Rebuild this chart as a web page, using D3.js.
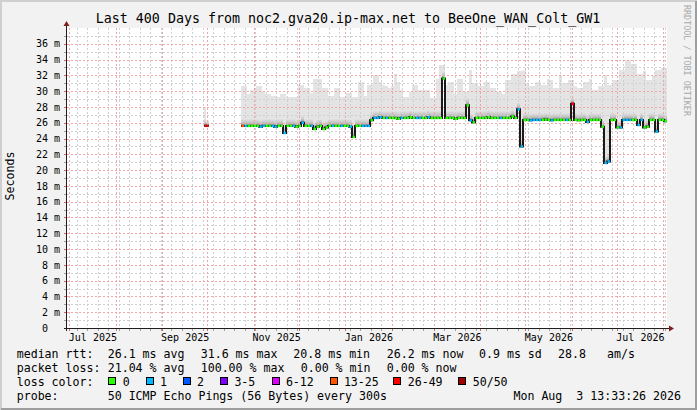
<!DOCTYPE html>
<html>
<head>
<meta charset="utf-8">
<script src="https://cdn.jsdelivr.net/npm/d3@7"></script>
<style>
  body { margin: 0; background: #f2f2f2; }
  svg { display: block; font-family: "DejaVu Sans Mono", monospace; }
  text { white-space: pre; }
</style>
</head>
<body>
<script>
// ---- data ----
const endTime = "2026-08-03T13:33:26Z";
const spanDays = 400;
const firstBin = "2025-10-23T13:33:26Z";   // each bin = 2 days
const binDays = 2;

// median rtt per bin, milliseconds
const rttMedian = [
  25.6,25.6,25.6,25.6,25.6,25.6,25.5,25.6,25.6,25.6,25.6,25.5,25.6,25.6,
  24.7,
  25.6,25.6,25.6,25.5,25.6,
  26.0,
  25.6,25.6,25.6,
  25.2,25.5,25.6,25.2,25.4,
  25.6,25.6,25.6,25.6,25.6,25.6,25.6,25.5,
  24.2,
  25.6,25.6,25.6,25.6,25.6,
  26.3,
  26.6,26.6,26.7,26.6,26.6,26.6,26.6,26.6,26.5,26.6,26.6,26.6,26.7,26.6,26.6,26.6,26.6,26.6,26.7,26.6,26.6,26.6,26.6,
  31.6,
  26.6,26.6,26.6,26.5,26.6,26.6,26.6,
  28.2,26.3,26.05,
  26.6,26.6,26.6,26.6,26.7,26.6,26.6,26.6,26.6,26.6,26.6,26.6,26.8,26.6,
  27.7,23.0,
  26.35,26.35,26.3,26.35,26.35,26.35,26.35,26.4,26.35,26.3,26.35,26.35,26.35,26.35,26.35,26.35,
  28.4,
  26.35,26.3,26.35,26.35,
  26.1,
  26.35,26.35,26.35,26.35,
  25.5,20.9,21.1,
  26.35,26.35,
  25.4,25.4,
  26.35,26.35,26.35,26.35,26.35,
  25.7,26.35,25.4,25.5,26.35,26.35,24.9,26.35,26.35,26.2
];

// loss class per bin (index into lossLabels)
const lossLevel = [
  5,1,0,0,0,0,1,1,0,0,1,1,0,0,
  1,
  0,0,1,0,0,
  1,
  0,0,1,
  0,0,0,0,0,
  0,1,0,0,1,0,0,1,
  0,
  0,0,1,1,1,
  0,
  1,1,1,0,1,0,0,0,0,1,0,0,0,0,1,1,0,0,1,0,0,0,0,
  0,
  0,0,0,0,0,0,0,
  0,1,0,
  0,0,0,0,0,0,0,0,1,0,0,0,0,0,
  1,1,
  0,0,1,1,1,1,0,0,0,1,0,0,0,0,1,0,
  6,
  0,0,0,0,
  1,
  0,0,0,0,
  0,1,1,
  0,0,
  0,1,
  1,1,1,0,0,
  1,1,0,0,0,0,1,0,0,0
];

// top of the smoke (slowest ping) per bin, milliseconds
const smokeTop = [
  30.6,30.6,29.6,30.1,30.1,30.6,30.6,30.0,29.6,29.6,29.4,29.4,29.2,29.6,
  29.6,29.2,29.2,29.3,29.3,30.8,30.8,30.4,30.4,29.8,31.6,31.6,31.6,30.4,
  30.4,29.4,29.4,30.4,30.4,29.2,29.2,29.8,29.8,29.2,29.2,31.2,31.2,29.4,
  30.8,30.8,32.0,32.0,31.2,
  30.8,30.6,30.4,30.6,32.2,31.2,30.1,29.3,29.3,29.9,30.8,30.8,30.1,30.1,
  30.1,30.1,29.1,29.1,31.6,33.3,33.3,30.8,31.2,31.2,29.7,31.6,31.6,29.9,
  29.9,32.7,31.0,31.0,30.6,30.6,31.2,31.2,30.4,30.4,29.9,29.9,29.7,31.4,
  31.4,32.2,32.2,32.5,32.5,
  32.7,31.0,30.6,30.6,31.2,31.2,30.8,30.8,31.6,31.4,30.4,30.4,32.0,31.0,
  31.0,31.4,31.4,30.6,30.4,30.4,31.2,31.2,31.6,30.2,30.2,30.6,30.6,32.0,
  30.8,30.8,31.4,31.4,32.7,32.7,33.9,33.9,33.5,33.5,32.2,32.2,32.5,31.4,
  31.4,32.0,32.7,32.7,32.9,32.9
];

// lone early sample (late September)
const loneTimes = ["2025-09-29T00:00:00Z", "2025-09-30T12:00:00Z"];
const loneMedian = [25.6, 25.6];
const loneLoss = [6, 6];
const loneTop = [28.0, 26.0];

const lossLabels = ["0", "1", "2", "3-5", "6-12", "13-25", "26-49", "50/50"];
const lossColors = ["#26ff00", "#00b8ff", "#0059ff", "#7e00ff", "#dd00ff", "#ff5500", "#ff0000", "#a10000"];

const yTickValues = [0, 2, 4, 6, 8, 10, 12, 14, 16, 18, 20, 22, 24, 26, 28, 30, 32, 34, 36];
const xLabelMonths = ["2025-07", "2025-09", "2025-11", "2026-01", "2026-03", "2026-05", "2026-07"];

const titleText = "Last 400 Days from noc2.gva20.ip-max.net to BeeOne_WAN_Colt_GW1";
const statsRtt = ["median rtt:", "26.1 ms avg", "31.6 ms max", "20.8 ms min", "26.2 ms now", "0.9 ms sd", "28.8", "am/s"];
const statsLoss = ["packet loss:", "21.04 % avg", "100.00 % max", "0.00 % min", "0.00 % now"];
const probeText = ["probe:", "50 ICMP Echo Pings (56 Bytes) every 300s", "Mon Aug  3 13:33:26 2026"];

// ---- chart ----
const W = 697, H = 410;
const pL = 67, pR = 667, pT = 28, pB = 328;

const svg = d3.select("body").append("svg")
  .attr("width", W).attr("height", H);

// background with rrdtool style shade
svg.append("rect").attr("width", W).attr("height", H).attr("fill", "#f2f2f2");
svg.append("path").attr("d", `M1,${H} L1,1 L${W},1`).attr("fill", "none")
  .attr("stroke", "#cfcfcf").attr("stroke-width", 2);
svg.append("path").attr("d", `M1,${H - 1} L${W - 1},${H - 1} L${W - 1},1`).attr("fill", "none")
  .attr("stroke", "#9e9e9e").attr("stroke-width", 2);

svg.append("rect").attr("x", pL).attr("y", pT)
  .attr("width", pR - pL).attr("height", pB - pT).attr("fill", "#ffffff");

const tEnd = new Date(endTime);
const tStart = d3.utcDay.offset(tEnd, -spanDays);
const x = d3.scaleUtc().domain([tStart, tEnd]).range([pL, pR]);
const y = d3.scaleLinear().domain([0, 38]).range([pB, pT]);

const gridY = d3.range(1, 38);
const weeks = d3.utcSunday.range(tStart, tEnd);
const months = d3.utcMonth.range(tStart, tEnd);
const hy = d => Math.round(y(d)) + 0.5;
const vx = d => Math.round(x(d)) + 0.5;

// bins
const t0 = new Date(firstBin);
const bins = rttMedian.map((m, i) => ({
  t: d3.utcDay.offset(t0, binDays * i),
  t2: d3.utcDay.offset(t0, binDays * (i + 1)),
  med: m, loss: lossLevel[i], top: smokeTop[i]
}));
const lone = loneTimes.map((s, i) => ({
  t: new Date(s),
  t2: d3.utcHour.offset(new Date(s), 36),
  med: loneMedian[i], loss: loneLoss[i], top: loneTop[i]
}));
const all = lone.concat(bins);

const defs = svg.append("defs");
const grad = defs.append("linearGradient").attr("id", "smokeGrad")
  .attr("x1", 0).attr("y1", 0).attr("x2", 0).attr("y2", 1);
grad.append("stop").attr("offset", 0).attr("stop-color", "#3a3a3a").attr("stop-opacity", 0);
grad.append("stop").attr("offset", 0.6).attr("stop-color", "#3a3a3a").attr("stop-opacity", 0.22);
grad.append("stop").attr("offset", 1).attr("stop-color", "#3a3a3a").attr("stop-opacity", 0.7);

// smoke
const smoke = svg.append("g").attr("shape-rendering", "crispEdges");
smoke.selectAll("rect.top").data(all).enter().append("rect")
  .attr("x", d => x(d.t)).attr("width", d => x(d.t2) - x(d.t))
  .attr("y", d => y(d.top)).attr("height", d => y(d.med) - y(d.top) + 1)
  .attr("fill", "#e4e4e4");
smoke.selectAll("rect.dark").data(all).enter().append("rect")
  .attr("x", d => x(d.t)).attr("width", d => x(d.t2) - x(d.t))
  .attr("y", d => y(d.med) - 7).attr("height", 7)
  .attr("fill", "url(#smokeGrad)");

// grid, drawn over the smoke like rrdtool does
const minorCol = "#cfcfcf", majorCol = "#f0a6a6";
const grid = svg.append("g");
grid.selectAll(".hmin").data(gridY.filter(v => v % 2)).enter().append("path")
  .attr("class", "hmin")
  .attr("d", d => `M${pL},${hy(d)}H${pR}`)
  .attr("stroke", minorCol).attr("stroke-dasharray", "2,2");
grid.selectAll(".vmin").data(weeks).enter().append("path")
  .attr("class", "vmin")
  .attr("d", d => `M${vx(d)},${pT}V${pB}`)
  .attr("stroke", minorCol).attr("stroke-dasharray", "2,2");
grid.selectAll(".hmaj").data(gridY.filter(v => v % 2 === 0)).enter().append("path")
  .attr("class", "hmaj")
  .attr("d", d => `M${pL},${hy(d)}H${pR}`)
  .attr("stroke", majorCol).attr("stroke-dasharray", "2,2");
grid.selectAll(".vmaj").data(months).enter().append("path")
  .attr("class", "vmaj")
  .attr("d", d => `M${vx(d)},${pT}V${pB}`)
  .attr("stroke", majorCol).attr("stroke-dasharray", "2,2");

// median line (dark), then loss coloured segments
const stepPts = bins.map(d => [d.t, d.med]).concat([[bins[bins.length - 1].t2, bins[bins.length - 1].med]]);
const line = d3.line().x(d => x(d[0])).y(d => y(d[1])).curve(d3.curveStepAfter);
svg.append("path").datum(stepPts).attr("d", line)
  .attr("fill", "none").attr("stroke", "#1a1a1a").attr("stroke-width", 2);
const lonePts = lone.map(d => [d.t, d.med]).concat([[lone[1].t2, lone[1].med]]);
svg.append("path").datum(lonePts).attr("d", line)
  .attr("fill", "none").attr("stroke", "#1a1a1a").attr("stroke-width", 2);

svg.append("g").selectAll("line").data(all).enter().append("line")
  .attr("x1", d => x(d.t) + 0.5).attr("x2", d => x(d.t2))
  .attr("y1", d => y(d.med)).attr("y2", d => y(d.med))
  .attr("stroke", d => lossColors[d.loss]).attr("stroke-width", 2.4);

// axes lines, ticks, arrows
const ax = svg.append("g").attr("shape-rendering", "crispEdges");
ax.selectAll("line.yt").data(gridY.concat([0])).enter().append("line")
  .attr("x1", pL - 3).attr("x2", pL)
  .attr("y1", hy).attr("y2", hy)
  .attr("stroke", d => d % 2 ? "#a0a0a0" : "#c86a6a");
ax.selectAll("line.xt").data(weeks).enter().append("line")
  .attr("x1", vx).attr("x2", vx)
  .attr("y1", pB).attr("y2", pB + 3).attr("stroke", "#a0a0a0");
ax.selectAll("line.xm").data(months).enter().append("line")
  .attr("x1", vx).attr("x2", vx)
  .attr("y1", pB).attr("y2", pB + 3).attr("stroke", "#c86a6a");
ax.append("line").attr("x1", pL - 3).attr("x2", pR + 3)
  .attr("y1", pB + 0.5).attr("y2", pB + 0.5).attr("stroke", "#1f1f1f");
ax.append("line").attr("x1", pL - 0.5).attr("x2", pL - 0.5)
  .attr("y1", pB + 3).attr("y2", pT - 3).attr("stroke", "#1f1f1f");
svg.append("path").attr("d", `M${pL - 3.5},${pT - 2} L${pL - 0.5},${pT - 7} L${pL + 2.5},${pT - 2} Z`)
  .attr("fill", "#801f1f");
svg.append("path").attr("d", `M${pR + 2},${pB - 2.5} L${pR + 7},${pB + 0.5} L${pR + 2},${pB + 3.5} Z`)
  .attr("fill", "#801f1f");

// tick labels through d3 axes
const midMonth = xLabelMonths.map(s => {
  const a = new Date(s + "-01T00:00:00Z");
  return new Date((+a + +d3.utcMonth.offset(a, 1)) / 2);
});
const xAxis = d3.axisBottom(x).tickValues(midMonth).tickFormat(d3.utcFormat("%b %Y"))
  .tickSize(0).tickPadding(6);
const gx = svg.append("g").attr("transform", `translate(0,${pB})`).call(xAxis);
gx.select(".domain").remove();
gx.selectAll("text").attr("font-size", 10).attr("fill", "#000")
  .attr("font-family", "DejaVu Sans Mono");

const yAxis = d3.axisLeft(y).tickValues(yTickValues)
  .tickFormat(v => v === 0 ? "0\u00a0\u00a0" : v + " m").tickSize(0).tickPadding(7);
const gy = svg.append("g").attr("transform", `translate(${pL},0)`).call(yAxis);
gy.select(".domain").remove();
gy.selectAll("text").attr("font-size", 10).attr("fill", "#000")
  .attr("font-family", "DejaVu Sans Mono");

// title, labels, watermark
svg.append("text").attr("x", 348).attr("y", 23).attr("text-anchor", "middle")
  .attr("font-size", 13.3).text(titleText);
svg.append("text").attr("transform", "translate(14,176) rotate(-90)")
  .attr("text-anchor", "middle").attr("font-size", 11.6).text("Seconds");
svg.append("text").attr("transform", "translate(684,5) rotate(90)")
  .attr("font-size", 8.4).attr("fill", "#a9a9a9").text("RRDTOOL / TOBI OETIKER");

// legend
const fs = 11.6;
const rttX = [16.7, 107.7, 200.7, 293.3, 386.7, 479, 558, 607];
statsRtt.forEach((s, i) => svg.append("text").attr("x", rttX[i]).attr("y", 357.5)
  .attr("font-size", fs).text(s));
const lossX = [16.7, 107.7, 200.7, 300.7, 386.7];
statsLoss.forEach((s, i) => svg.append("text").attr("x", lossX[i]).attr("y", 371.5)
  .attr("font-size", fs).text(s));

svg.append("text").attr("x", 16.7).attr("y", 385.5).attr("font-size", fs).text("loss color:");
const boxX = [108.3, 145.7, 182.7, 220, 271.5, 329.5, 393.3, 458.3];
const lg = svg.append("g");
lg.selectAll("rect").data(lossLabels).enter().append("rect")
  .attr("x", (d, i) => Math.round(boxX[i]) + 0.5).attr("y", 377.5)
  .attr("width", 7).attr("height", 7)
  .attr("fill", (d, i) => lossColors[i]).attr("stroke", "#000").attr("stroke-width", 1)
  .attr("shape-rendering", "crispEdges");
lg.selectAll("text").data(lossLabels).enter().append("text")
  .attr("x", (d, i) => boxX[i] + 14.4).attr("y", 385.5)
  .attr("font-size", fs).text(d => d);

svg.append("text").attr("x", 16.7).attr("y", 399.5).attr("font-size", fs).text(probeText[0]);
svg.append("text").attr("x", 107.7).attr("y", 399.5).attr("font-size", fs).text(probeText[1]);
svg.append("text").attr("x", 681).attr("y", 399.5).attr("text-anchor", "end")
  .attr("font-size", fs).text(probeText[2]);
</script>
</body>
</html>
